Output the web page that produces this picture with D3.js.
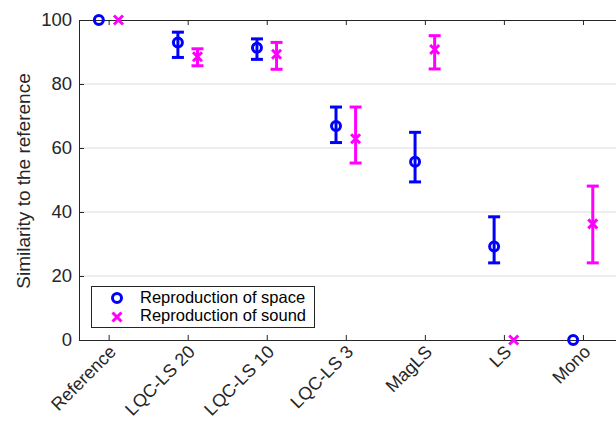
<!DOCTYPE html>
<html>
<head>
<meta charset="utf-8">
<script src="https://cdn.jsdelivr.net/npm/d3@7"></script>
<style>
body{margin:0;background:#fff;}
svg{display:block;font-family:"Liberation Sans",Arial,sans-serif;}
</style>
</head>
<body>
<div id="chart"></div>
<script>
// data
const categories=["Reference","LQC-LS 20","LQC-LS 10","LQC-LS 3","MagLS","LS","Mono"];
const spaceMean=[100,93.0,91.3,66.9,55.7,29.2,0];
const spaceLow =[100,88.3,87.7,61.7,49.4,24.1,0];
const spaceHigh=[100,96.2,94.1,72.8,64.9,38.5,0];
const soundMean=[100,88.5,89.3,62.9,90.8,0,36.3];
const soundLow =[100,85.7,84.6,55.3,84.7,0,24.1];
const soundHigh=[100,91.0,93.0,72.8,95.1,0,48.1];
const yTicks=[0,20,40,60,80,100];

const W=616,H=423;
const blue="#0000ff",mag="#ff00ff",ink="#262626";

const svg=d3.select("#chart").append("svg").attr("width",W).attr("height",H);

const x=d3.scaleLinear().domain([0.625,7.5]).range([79,622.5]);
const y=d3.scaleLinear().domain([0,100]).range([340,20]);
const off=9.8;

// grid
svg.append("g").selectAll("line").data(yTicks.filter(d=>d>0&&d<100)).enter().append("line")
  .attr("x1",80).attr("x2",W).attr("y1",d=>y(d)).attr("y2",d=>y(d))
  .attr("stroke","#dcdcdc").attr("stroke-width",1);

// axes
const yAx=svg.append("g").attr("transform","translate(79,0)")
  .call(d3.axisLeft(y).tickValues(yTicks).tickSize(-5).tickPadding(7));
yAx.select(".domain").attr("stroke",ink);
yAx.selectAll(".tick line").attr("stroke",ink);
yAx.selectAll("text").attr("fill",ink).style("font-size","18.5px");

const xAx=svg.append("g").attr("transform","translate(0,340)")
  .call(d3.axisBottom(x).tickValues(d3.range(1,8)).tickSize(-5).tickSizeOuter(0).tickFormat(d=>categories[d-1]));
xAx.select(".domain").attr("stroke",ink);
xAx.selectAll(".tick line").attr("stroke",ink);
xAx.selectAll("text").attr("fill",ink).style("font-size","18px")
  .attr("text-anchor","end").attr("dy",0).attr("y",0)
  .attr("transform","translate(8,13) rotate(-45)");

// top box line with ticks
const xTop=svg.append("g").attr("transform","translate(0,20)")
  .call(d3.axisTop(x).tickValues(d3.range(1,8)).tickSize(-5).tickSizeOuter(0).tickFormat(""));
xTop.select(".domain").attr("stroke",ink);
xTop.selectAll(".tick line").attr("stroke",ink);

// y label
svg.append("text").attr("transform","translate(30,181) rotate(-90)")
  .attr("text-anchor","middle").attr("fill",ink).style("font-size","19px")
  .text("Similarity to the reference");

function errGroup(mean,lo,hi,dx,color,marker){
  const g=svg.append("g");
  const idx=d3.range(categories.length);
  const withBar=idx.filter(i=>hi[i]-lo[i]>0.01);
  g.selectAll(".v").data(withBar).enter().append("line")
    .attr("x1",i=>x(i+1)+dx).attr("x2",i=>x(i+1)+dx)
    .attr("y1",i=>y(lo[i])).attr("y2",i=>y(hi[i]))
    .attr("stroke",color).attr("stroke-width",3);
  ["lo","hi"].forEach(k=>{
    const arr=k==="lo"?lo:hi;
    g.selectAll(".c"+k).data(withBar).enter().append("line")
      .attr("x1",i=>x(i+1)+dx-6).attr("x2",i=>x(i+1)+dx+6)
      .attr("y1",i=>y(arr[i])).attr("y2",i=>y(arr[i]))
      .attr("stroke",color).attr("stroke-width",3);
  });
  if(marker==="o"){
    g.selectAll("circle").data(idx).enter().append("circle")
      .attr("cx",i=>x(i+1)+dx).attr("cy",i=>y(mean[i])).attr("r",4.5)
      .attr("fill","none").attr("stroke",color).attr("stroke-width",3);
  }else{
    g.selectAll("path").data(idx).enter().append("path")
      .attr("d",i=>{const cx=x(i+1)+dx,cy=y(mean[i]),s=4.5;
        return `M${cx-s},${cy-s}L${cx+s},${cy+s}M${cx-s},${cy+s}L${cx+s},${cy-s}`;})
      .attr("stroke",color).attr("stroke-width",3);
  }
}
errGroup(spaceMean,spaceLow,spaceHigh,-off,blue,"o");
errGroup(soundMean,soundLow,soundHigh,off,mag,"x");

// legend
const lg=svg.append("g");
lg.append("rect").attr("x",91.5).attr("y",286.5).attr("width",223).attr("height",41)
  .attr("fill","#fff").attr("stroke",ink).attr("stroke-width",1);
lg.append("circle").attr("cx",117).attr("cy",298).attr("r",4.5)
  .attr("fill","none").attr("stroke",blue).attr("stroke-width",3);
lg.append("path").attr("d","M112.5,312.5L121.5,321.5M112.5,321.5L121.5,312.5")
  .attr("stroke",mag).attr("stroke-width",3);
lg.append("text").attr("x",140).attr("y",303).attr("fill","#000").style("font-size","16.5px").text("Reproduction of space");
lg.append("text").attr("x",140).attr("y",321).attr("fill","#000").style("font-size","16.5px").text("Reproduction of sound");
</script>
</body>
</html>
